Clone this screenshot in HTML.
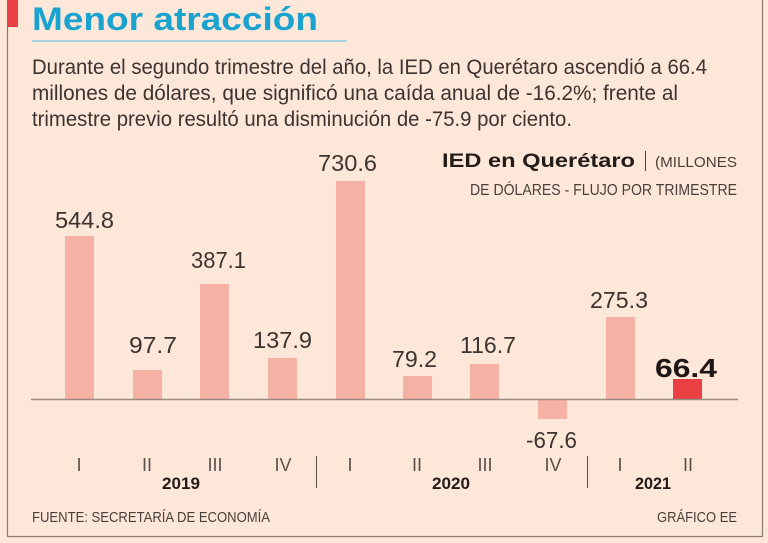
<!DOCTYPE html>
<html>
<head>
<meta charset="utf-8">
<style>
  html,body{margin:0;padding:0;background:#fde7d8;}
  svg{display:block;}
  text{font-family:"Liberation Sans", sans-serif;}
</style>
</head>
<body>
<svg width="768" height="543" viewBox="0 0 768 543" xmlns="http://www.w3.org/2000/svg">
  <rect x="0" y="0" width="768" height="543" fill="#fde7d8"/>

  <!-- frame -->
  <rect x="7" y="0" width="11" height="27" fill="#ea4043"/>
  <line x1="7.5" y1="27" x2="7.5" y2="536.5" stroke="#8b7b70" stroke-width="1.2"/>
  <line x1="7" y1="536.5" x2="763" y2="536.5" stroke="#8b7b70" stroke-width="1.2"/>
  <line x1="762.5" y1="0" x2="762.5" y2="536.5" stroke="#8b7b70" stroke-width="1.2"/>

  <!-- title -->
  <text x="32" y="30" font-size="32" font-weight="bold" fill="#1aa3cf" textLength="286" lengthAdjust="spacingAndGlyphs">Menor atracción</text>
  <line x1="32" y1="41" x2="347" y2="41" stroke="#8ccbe0" stroke-width="1.5"/>

  <!-- paragraph -->
  <g font-size="21" fill="#3c3430">
    <text x="32" y="74" textLength="675" lengthAdjust="spacingAndGlyphs">Durante el segundo trimestre del año, la IED en Querétaro ascendió a 66.4</text>
    <text x="32" y="100" textLength="646" lengthAdjust="spacingAndGlyphs">millones de dólares, que significó una caída anual de -16.2%; frente al</text>
    <text x="32" y="126" textLength="540" lengthAdjust="spacingAndGlyphs">trimestre previo resultó una disminución de -75.9 por ciento.</text>
  </g>

  <!-- chart title -->
  <text x="442" y="167" font-size="19" font-weight="bold" fill="#231c19" textLength="193" lengthAdjust="spacingAndGlyphs">IED en Querétaro</text>
  <line x1="645.5" y1="151" x2="645.5" y2="171" stroke="#4a403b" stroke-width="1"/>
  <text x="655" y="167" font-size="15" fill="#4a403b" textLength="82" lengthAdjust="spacingAndGlyphs">(MILLONES</text>
  <text x="470" y="195" font-size="16" fill="#4a403b" textLength="267" lengthAdjust="spacingAndGlyphs">DE DÓLARES - FLUJO POR TRIMESTRE</text>

  <!-- bars -->
  <g fill="#f6b1a5">
    <rect x="65" y="236" width="29" height="163"/>
    <rect x="133" y="370" width="29" height="29"/>
    <rect x="200" y="284" width="29" height="115"/>
    <rect x="268" y="358" width="29" height="41"/>
    <rect x="336" y="181" width="29" height="218"/>
    <rect x="403" y="376" width="29" height="23"/>
    <rect x="470" y="364" width="29" height="35"/>
    <rect x="538" y="399" width="29" height="20"/>
    <rect x="606" y="317" width="29" height="82"/>
  </g>
  <rect x="673" y="379" width="29" height="20" fill="#ea4043"/>

  <!-- baseline -->
  <line x1="31" y1="399.5" x2="738" y2="399.5" stroke="#9a8a80" stroke-width="1.5"/>

  <!-- value labels -->
  <g font-size="23" fill="#3c3430">
    <text x="55" y="228" textLength="59" lengthAdjust="spacingAndGlyphs">544.8</text>
    <text x="129" y="353" textLength="48" lengthAdjust="spacingAndGlyphs">97.7</text>
    <text x="191" y="268" textLength="55" lengthAdjust="spacingAndGlyphs">387.1</text>
    <text x="253" y="348" textLength="59" lengthAdjust="spacingAndGlyphs">137.9</text>
    <text x="318" y="171" textLength="59" lengthAdjust="spacingAndGlyphs">730.6</text>
    <text x="392" y="367" textLength="45" lengthAdjust="spacingAndGlyphs">79.2</text>
    <text x="460" y="353" textLength="56" lengthAdjust="spacingAndGlyphs">116.7</text>
    <text x="526" y="448" textLength="51" lengthAdjust="spacingAndGlyphs">-67.6</text>
    <text x="590" y="308" textLength="58" lengthAdjust="spacingAndGlyphs">275.3</text>
  </g>
  <text x="655" y="377" font-size="26" font-weight="bold" fill="#1e1715" textLength="62" lengthAdjust="spacingAndGlyphs">66.4</text>

  <!-- x axis labels -->
  <g font-size="18" fill="#5a504b" text-anchor="middle">
    <text x="79" y="471">I</text>
    <text x="147" y="471">II</text>
    <text x="215" y="471">III</text>
    <text x="283" y="471">IV</text>
    <text x="350" y="471">I</text>
    <text x="417" y="471">II</text>
    <text x="485" y="471">III</text>
    <text x="553" y="471">IV</text>
    <text x="620" y="471">I</text>
    <text x="688" y="471">II</text>
  </g>
  <line x1="316.5" y1="456" x2="316.5" y2="488" stroke="#5a504b" stroke-width="1"/>
  <line x1="587.5" y1="456" x2="587.5" y2="488" stroke="#5a504b" stroke-width="1"/>
  <g font-size="17" font-weight="bold" fill="#231c19">
    <text x="162" y="489" textLength="38" lengthAdjust="spacingAndGlyphs">2019</text>
    <text x="432" y="489" textLength="38" lengthAdjust="spacingAndGlyphs">2020</text>
    <text x="635" y="489" textLength="36" lengthAdjust="spacingAndGlyphs">2021</text>
  </g>

  <!-- footer -->
  <text x="32" y="522" font-size="15" fill="#4a403b" textLength="238" lengthAdjust="spacingAndGlyphs">FUENTE: SECRETARÍA DE ECONOMÍA</text>
  <text x="657" y="522" font-size="15" fill="#4a403b" textLength="80" lengthAdjust="spacingAndGlyphs">GRÁFICO EE</text>
</svg>
</body>
</html>
